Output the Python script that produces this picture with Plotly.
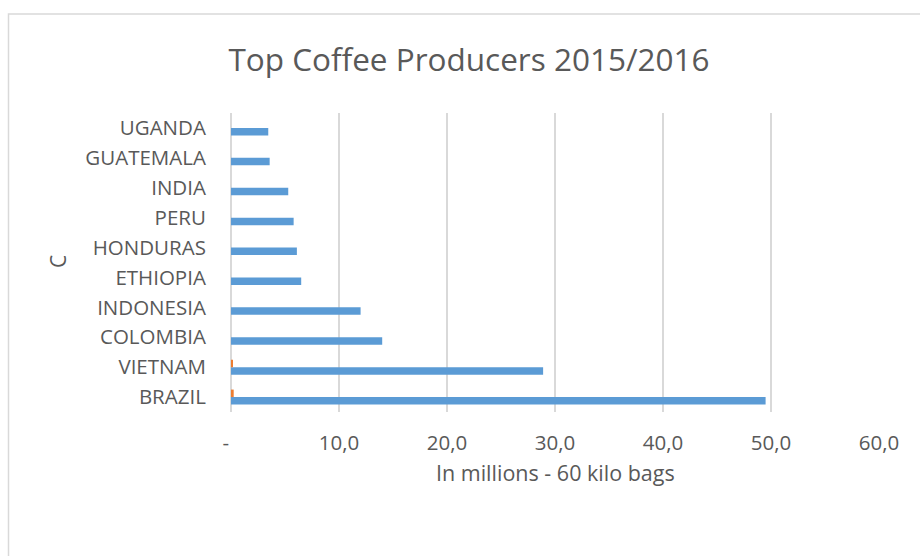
import plotly.graph_objects as go

countries = ["BRAZIL", "VIETNAM", "COLOMBIA", "INDONESIA", "ETHIOPIA",
             "HONDURAS", "PERU", "INDIA", "GUATEMALA", "UGANDA"]
production = [49.5, 28.9, 14.0, 12.0, 6.5, 6.1, 5.8, 5.3, 3.58, 3.45]
secondary = [0.25, 0.1, 0, 0, 0, 0, 0, 0, 0, 0]
x_tickvals = [0, 10, 20, 30, 40, 50, 60]
x_ticktext = ["-\u00a0\u00a0", "10,0", "20,0", "30,0", "40,0", "50,0", "60,0"]

FONT = "Open Sans, sans-serif"
TXT = "#595959"

fig = go.Figure()
fig.add_trace(go.Bar(y=countries, x=production, orientation="h",
                     marker=dict(color="#5B9BD5", line=dict(width=0)), name="Production"))
fig.add_trace(go.Bar(y=countries, x=secondary, orientation="h",
                     marker=dict(color="#ED7D31", line=dict(width=0)), name="Other"))

W, H = 920, 556
L, R, T, B = 231, 41, 113, 144
pw, ph = W - L - R, H - T - B

def px(xp):
    return (xp - L) / pw

def py(yp):
    return (H - B - yp) / ph

fig.update_layout(
    width=W, height=H,
    margin=dict(l=L, r=R, t=T, b=B),
    paper_bgcolor="white", plot_bgcolor="white",
    barmode="group", bargap=0.5, bargroupgap=0,
    showlegend=False,
    font=dict(family=FONT, color=TXT, size=20.5),
    title=dict(text="Top Coffee Producers 2015/2016", x=469 / W, xanchor="center",
               y=1 - 60 / H, yanchor="middle",
               font=dict(family=FONT, size=31.5, color=TXT)),
    xaxis=dict(range=[0, 60], tickvals=x_tickvals, ticktext=x_ticktext,
               showgrid=True, gridcolor="#d9d9d9", gridwidth=1.5,
               zeroline=True, zerolinecolor="#d9d9d9", zerolinewidth=2,
               showline=False, ticks="outside", ticklen=12,
               tickcolor="rgba(0,0,0,0)", tickfont=dict(size=20.5, color=TXT),
               fixedrange=True),
    yaxis=dict(categoryorder="array", categoryarray=countries,
               showgrid=False, zeroline=False, showline=False,
               ticks="outside", ticklen=20, tickcolor="rgba(0,0,0,0)",
               tickfont=dict(size=20.5, color=TXT), fixedrange=True),
    annotations=[
        dict(text="In millions - 60 kilo bags", xref="paper", yref="paper",
             x=px(555), y=py(472), xanchor="center", yanchor="middle",
             showarrow=False, font=dict(family=FONT, size=21.5, color=TXT)),
        dict(text="C", xref="paper", yref="paper", x=px(58), y=py(262),
             xanchor="center", yanchor="middle", textangle=-90,
             showarrow=False, font=dict(family=FONT, size=21, color=TXT)),
    ],
    shapes=[
        dict(type="rect", xref="paper", yref="paper",
             x0=px(8.5), x1=px(930), y0=py(570), y1=py(14),
             line=dict(color="#d9d9d9", width=1.5), fillcolor="rgba(0,0,0,0)",
             layer="below"),
    ],
)

fig.write_html("out.html", config={"displayModeBar": False},
               post_script="document.body.style.margin='0';document.body.style.overflow='hidden';")
